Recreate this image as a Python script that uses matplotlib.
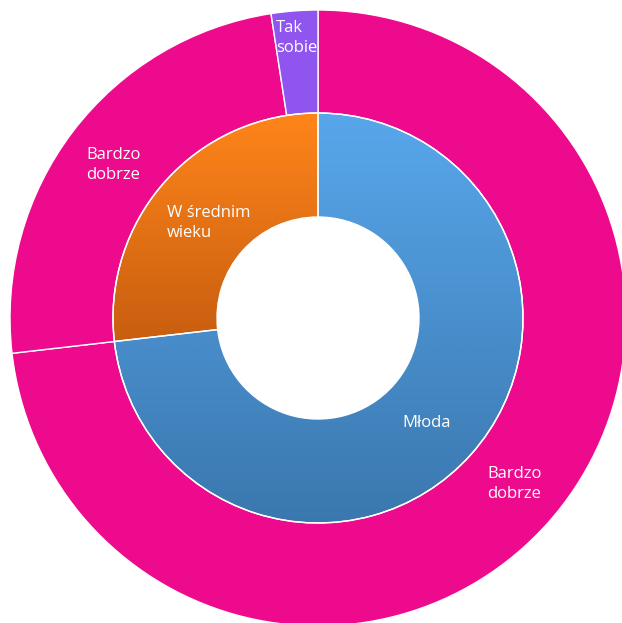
import matplotlib.pyplot as plt
import numpy as np
from matplotlib.colors import LinearSegmentedColormap

# inner ring: age groups
age_labels = ["Młoda", "W średnim\nwieku"]
age_values = [30, 11]

# outer ring: ratings per age group
rating_labels = ["Bardzo\ndobrze", "Bardzo\ndobrze", "Tak\nsobie"]
rating_values = [30, 10, 1]

W, H = 622, 623
cx, cy = 318, H - 318
r_outer, r_mid, r_hole = 308, 205, 101

fig = plt.figure(figsize=(W / 100, H / 100), dpi=100)
ax = fig.add_axes([0, 0, 1, 1])
plt.rcParams['font.family'] = ['Open Sans', 'DejaVu Sans']

pink = "#EE0A8C"
purple = "#8F55EE"
outer, _ = ax.pie(rating_values, radius=r_outer, center=(cx, cy),
                  startangle=90, counterclock=False,
                  colors=[pink, pink, purple],
                  wedgeprops=dict(width=r_outer - r_mid, edgecolor="white", linewidth=1))
inner, _ = ax.pie(age_values, radius=r_mid, center=(cx, cy),
                  startangle=90, counterclock=False,
                  colors=["none", "none"],
                  wedgeprops=dict(width=r_mid - r_hole, edgecolor="white", linewidth=1))

gradients = [("#58A7EB", "#3A77AE"), ("#FF851A", "#C85E10")]
for w, (top, bot) in zip(inner, gradients):
    fig.canvas.draw()
    verts = w.get_path().vertices
    y0, y1 = verts[:, 1].min(), verts[:, 1].max()
    x0, x1 = verts[:, 0].min(), verts[:, 0].max()
    cmap = LinearSegmentedColormap.from_list("g", [bot, top])
    grad = np.linspace(0, 1, 256).reshape(-1, 1)
    im = ax.imshow(grad, cmap=cmap, origin="lower", aspect="auto",
                   extent=(x0, x1, y0, y1), zorder=w.get_zorder() - 0.5)
    im.set_clip_path(w)

txt = dict(color="white", fontsize=12, ha="left", va="center", linespacing=1.35)
ax.text(276, H - 38, rating_labels[2], **txt)
ax.text(86, H - 165, rating_labels[1], **txt)
ax.text(167, H - 223, age_labels[1], **txt)
ax.text(402, H - 423, age_labels[0], **txt)
ax.text(487, H - 484, rating_labels[0], **txt)

ax.set_xlim(0, W)
ax.set_ylim(0, H)
ax.set_aspect("equal")
ax.axis("off")
fig.savefig("out.png", dpi=100)
